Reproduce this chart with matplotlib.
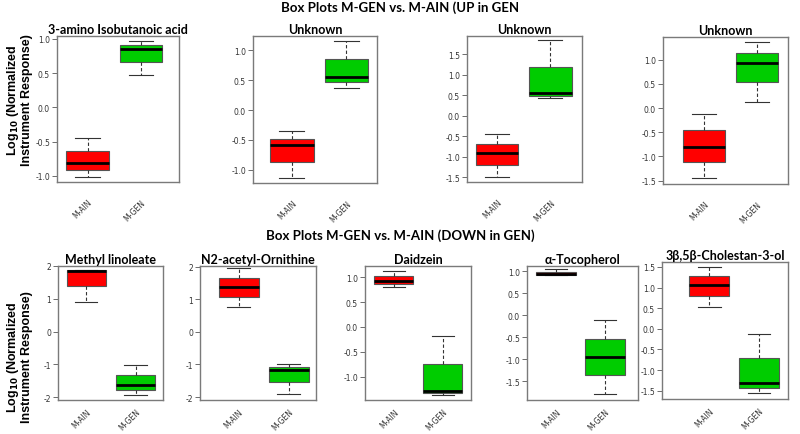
import matplotlib
matplotlib.use("Agg")
import matplotlib.pyplot as plt

plt.rcParams['axes.unicode_minus'] = False

groups = ['M-AIN', 'M-GEN']

# box stats: [whislo, q1, med, q3, whishi] for M-AIN, M-GEN
titles_up = ['3-amino Isobutanoic acid', 'Unknown', 'Unknown', 'Unknown']
ain_up = [[-1.015, -0.917, -0.815, -0.634, -0.44],
          [-1.129, -0.866, -0.585, -0.485, -0.356],
          [-1.484, -1.19, -0.912, -0.683, -0.446],
          [-1.452, -1.12, -0.796, -0.457, -0.119]]
gen_up = [[0.473, 0.668, 0.844, 0.902, 0.966],
          [0.378, 0.468, 0.546, 0.849, 1.151],
          [0.437, 0.494, 0.56, 1.197, 1.843],
          [0.123, 0.537, 0.931, 1.145, 1.359]]

titles_down = ['Methyl linoleate', 'N2-acetyl-Ornithine', 'Daidzein',
               'α-Tocopherol', '3β,5β-Cholestan-3-ol']
ain_down = [[0.911, 1.389, 1.847, 1.878, 1.88],
            [0.752, 1.07, 1.376, 1.66, 1.96],
            [0.81, 0.866, 0.926, 1.02, 1.12],
            [0.905, 0.909, 0.947, 0.985, 1.046],
            [0.527, 0.794, 1.054, 1.273, 1.49]]
gen_down = [[-1.939, -1.797, -1.634, -1.32, -1.013],
            [-1.91, -1.53, -1.16, -1.07, -0.987],
            [-1.369, -1.336, -1.282, -0.738, -0.181],
            [-1.804, -1.37, -0.945, -0.535, -0.117],
            [-1.565, -1.435, -1.305, -0.714, -0.122]]

# layout: frame in pixels (left, top, right, bottom), xlim, ylim, yticks
W, H = 800, 435
lay_up = [((57, 37, 179, 183), (0.43, 2.71), (-1.088, 1.04), [-1.0, -0.5, 0.0, 0.5, 1.0]),
          ((253, 37, 377, 184), (0.29, 2.56), (-1.22, 1.24), [-1.0, -0.5, 0.0, 0.5, 1.0]),
          ((467, 37, 582, 183), (0.44, 2.59), (-1.61, 1.95), [-1.5, -1.0, -0.5, 0.0, 0.5, 1.0, 1.5]),
          ((663, 38, 788, 185), (0.23, 2.58), (-1.57, 1.47), [-1.5, -1.0, -0.5, 0.0, 0.5, 1.0])]
lay_down = [((58, 267, 163, 401), (0.42, 2.56), (-2.09, 2.0), [-2, -1, 0, 1, 2]),
            ((200, 267, 316, 401), (0.23, 2.55), (-2.09, 2.02), [-2, -1, 0, 1, 2]),
            ((365, 267, 471, 401), (0.41, 2.58), (-1.47, 1.228), [-1.0, -0.5, 0.0, 0.5, 1.0]),
            ((527, 267, 638, 401), (0.41, 2.67), (-1.93, 1.12), [-1.5, -1.0, -0.5, 0.0, 0.5, 1.0]),
            ((662, 263, 788, 400), (0.05, 2.58), (-1.70, 1.62), [-1.5, -1.0, -0.5, 0.0, 0.5, 1.0, 1.5])]

title_font = ['Lato', 'DejaVu Sans']
frame_col = '#7a7a7a'


def stats(v, label):
    return dict(whislo=v[0], q1=v[1], med=v[2], q3=v[3], whishi=v[4], label=label, fliers=[])


def panel(fig, title, ain, gen, lay, integer_ticks, xpad):
    (l, t, r, b), xl, yl, yt = lay
    ax = fig.add_axes([l / W, 1 - b / H, (r - l) / W, (b - t) / H])
    bp = ax.bxp([stats(ain, groups[0]), stats(gen, groups[1])], positions=[1, 2],
                widths=0.8, capwidths=0.45, patch_artist=True,
                boxprops=dict(edgecolor='#555555', linewidth=0.8),
                whiskerprops=dict(color='#333333', linestyle=(0, (3, 2)), linewidth=0.8),
                capprops=dict(color='#333333', linewidth=0.8),
                medianprops=dict(color='black', linewidth=2))
    bp['boxes'][0].set_facecolor('#ff0000')
    bp['boxes'][1].set_facecolor('#00cc00')
    ax.set_xlim(xl)
    ax.set_ylim(yl)
    ax.set_yticks(yt)
    if integer_ticks:
        ax.set_yticklabels([str(int(v)) for v in yt])
    else:
        ax.set_yticklabels(['%.1f' % v for v in yt])
    ax.tick_params(axis='y', labelsize=5.5, length=3.5, width=0.6, color='#555555',
                   labelcolor='#333333', pad=1.5)
    ax.tick_params(axis='x', length=0, pad=xpad)
    for lab in ax.get_xticklabels():
        lab.set_rotation(45)
        lab.set_ha('right')
        lab.set_va('top')
        lab.set_rotation_mode('anchor')
        lab.set_fontsize(5.5)
        lab.set_color('#333333')
    for s in ax.spines.values():
        s.set_color(frame_col)
        s.set_linewidth(1.0)
    ax.set_title(title, fontsize=9, fontweight='bold', family=title_font, pad=2)
    return ax


fig = plt.figure(figsize=(8, 4.35), dpi=100)

for i in range(len(titles_up)):
    panel(fig, titles_up[i], ain_up[i], gen_up[i], lay_up[i], False, 11)
for i in range(len(titles_down)):
    panel(fig, titles_down[i], ain_down[i], gen_down[i], lay_down[i],
          lay_down[i][3][0] == -2, 5)

fig.text(0.5, 1 - 8 / H, 'Box Plots M-GEN vs. M-AIN (UP in GEN', ha='center', va='center',
         fontsize=9.5, fontweight='bold', family=title_font)
fig.text(0.5, 1 - 236 / H, 'Box Plots M-GEN vs. M-AIN (DOWN in GEN)', ha='center', va='center',
         fontsize=9.5, fontweight='bold', family=title_font)

ylab = 'Log$_{\\mathbf{10}}$ (Normalized\nInstrument Response)'
for yc in (100, 357):
    fig.text(19 / W, 1 - yc / H, ylab, rotation=90, ha='center', va='center',
             fontsize=9, fontweight='bold', family='Liberation Sans', linespacing=1.0)

fig.savefig('out.png', dpi=100)
